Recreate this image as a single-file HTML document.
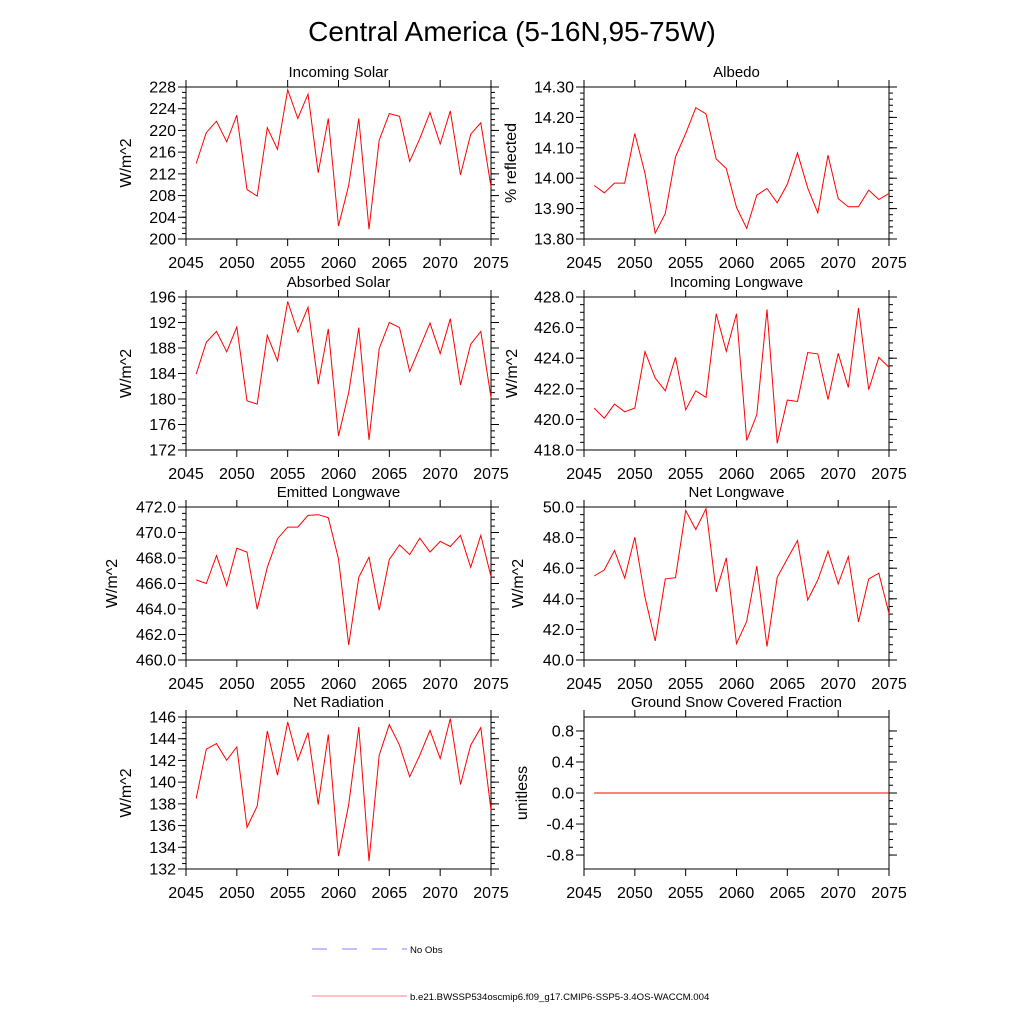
<!DOCTYPE html>
<html><head><meta charset="utf-8"><style>
body{margin:0;background:#fff;}
svg text{font-family:"Liberation Sans",Arial,sans-serif;fill:#000;}
</style></head><body>
<svg id="chart" width="1024" height="1024" viewBox="0 0 1024 1024" xmlns="http://www.w3.org/2000/svg">
<rect width="1024" height="1024" fill="#fff"/>
<text x="512" y="41" font-size="28" text-anchor="middle">Central America (5-16N,95-75W)</text>
<g id="panels"></g>
<g>
<line x1="312" y1="949" x2="407" y2="949" stroke="#8080ff" stroke-width="1" stroke-dasharray="15,15"/>
<text x="410" y="953" font-size="9.6">No Obs</text>
<line x1="312" y1="996" x2="407" y2="996" stroke="#ff8080" stroke-width="1"/>
<text x="410" y="1000" font-size="9.6">b.e21.BWSSP534oscmip6.f09_g17.CMIP6-SSP5-3.4OS-WACCM.004</text>
</g>
</svg>
<script>
const years = [2046,2047,2048,2049,2050,2051,2052,2053,2054,2055,2056,2057,2058,2059,2060,2061,2062,2063,2064,2065,2066,2067,2068,2069,2070,2071,2072,2073,2074,2075];
const xTicks = [2045,2050,2055,2060,2065,2070,2075];
const incomingSolar = [213.9,219.6,221.7,217.9,222.8,209.1,207.9,220.5,216.5,227.5,222.2,226.7,212.2,222.2,202.4,209.9,222.2,201.8,218.2,223.1,222.6,214.3,218.5,223.3,217.5,223.6,211.8,219.3,221.4,209.6];
const albedo = [13.976,13.952,13.984,13.984,14.147,14.016,13.819,13.884,14.070,14.147,14.232,14.212,14.063,14.032,13.904,13.835,13.944,13.966,13.919,13.980,14.083,13.968,13.886,14.076,13.933,13.906,13.906,13.961,13.930,13.950];
const absorbedSolar = [183.9,188.9,190.6,187.4,191.3,179.7,179.2,190.0,186.0,195.3,190.5,194.4,182.3,191.0,174.2,181.0,191.2,173.6,187.9,192.0,191.2,184.3,188.1,191.9,187.1,192.6,182.2,188.6,190.6,180.2];
const incomingLW = [420.74,420.08,421.0,420.5,420.74,424.43,422.7,421.87,424.06,420.63,421.87,421.44,426.9,424.45,426.9,418.63,420.3,427.19,418.44,421.26,421.17,424.37,424.28,421.3,424.32,422.09,427.28,421.94,424.06,423.4];
const emittedLW = [466.28,466.0,468.19,465.83,468.77,468.46,463.99,467.27,469.51,470.42,470.42,471.34,471.4,471.16,467.93,461.18,466.49,468.06,463.91,467.88,469.03,468.27,469.56,468.46,469.3,468.9,469.77,467.27,469.77,466.54];
const netLW = [45.49,45.89,47.16,45.36,48.03,44.09,41.25,45.30,45.38,49.78,48.53,49.89,44.46,46.67,41.07,42.52,46.13,40.88,45.40,46.61,47.81,43.92,45.23,47.11,44.97,46.76,42.49,45.30,45.67,43.04];
const netRadiation = [138.49,143.03,143.55,142.02,143.24,135.83,137.79,144.71,140.64,145.54,142.02,144.56,137.94,144.38,133.19,137.94,145.08,132.73,142.48,145.30,143.40,140.49,142.48,144.77,142.17,145.85,139.78,143.40,145.02,137.42];
const snowFraction = [0,0,0,0,0,0,0,0,0,0,0,0,0,0,0,0,0,0,0,0,0,0,0,0,0,0,0,0,0,0];
const incomingSolarTicks = [200,204,208,212,216,220,224,228];
const albedoTicks = [13.80,13.90,14.00,14.10,14.20,14.30];
const absorbedSolarTicks = [172,176,180,184,188,192,196];
const incomingLWTicks = [418,420,422,424,426,428];
const emittedLWTicks = [460,462,464,466,468,470,472];
const netLWTicks = [40,42,44,46,48,50];
const netRadiationTicks = [132,134,136,138,140,142,144,146];
const snowTicks = [-0.8,-0.4,0.0,0.4,0.8];

const NS='http://www.w3.org/2000/svg';
const root=document.getElementById('panels');
function mk(tag,attrs,parent){const e=document.createElementNS(NS,tag);for(const k in attrs)e.setAttribute(k,attrs[k]);parent.appendChild(e);return e;}

const panels=[
 {id:'incoming-solar',title:'Incoming Solar',yl:'W/m^2',x0:186,y0:87,y1:239,ymin:200,ymax:228,ticks:incomingSolarTicks,dec:0,minor:1,data:incomingSolar,ylx:131},
 {id:'albedo',title:'Albedo',yl:'% reflected',x0:584,y0:87,y1:239,ymin:13.8,ymax:14.3,ticks:albedoTicks,dec:2,minor:0.02,data:albedo,ylx:516},
 {id:'absorbed-solar',title:'Absorbed Solar',yl:'W/m^2',x0:186,y0:297,y1:450,ymin:172,ymax:196,ticks:absorbedSolarTicks,dec:0,minor:1,data:absorbedSolar,ylx:131},
 {id:'incoming-longwave',title:'Incoming Longwave',yl:'W/m^2',x0:584,y0:297,y1:450,ymin:418,ymax:428,ticks:incomingLWTicks,dec:1,minor:0.5,data:incomingLW,ylx:517},
 {id:'emitted-longwave',title:'Emitted Longwave',yl:'W/m^2',x0:186,y0:507,y1:660,ymin:460,ymax:472,ticks:emittedLWTicks,dec:1,minor:0.5,data:emittedLW,ylx:117},
 {id:'net-longwave',title:'Net Longwave',yl:'W/m^2',x0:584,y0:507,y1:660,ymin:40,ymax:50,ticks:netLWTicks,dec:1,minor:0.5,data:netLW,ylx:523},
 {id:'net-radiation',title:'Net Radiation',yl:'W/m^2',x0:186,y0:717,y1:869,ymin:132,ymax:146,ticks:netRadiationTicks,dec:0,minor:0.5,data:netRadiation,ylx:131},
 {id:'snow-fraction',title:'Ground Snow Covered Fraction',yl:'unitless',x0:584,y0:717,y1:869,ymin:-0.98,ymax:0.98,ticks:snowTicks,dec:1,minor:0.1,data:snowFraction,ylx:527}
];
const W=305;
panels.forEach(p=>{
 const g=mk('g',{},root);
 
 
 const x1=p.x0+W;
 const xs=v=>p.x0+(v-2045)/30*W;
 const ys=v=>p.y1-(v-p.ymin)/(p.ymax-p.ymin)*(p.y1-p.y0);
 const t=mk('text',{x:p.x0+W/2,y:p.y0-10,'font-size':15,'text-anchor':'middle'},g);t.textContent=p.title;
 
 
 const n=Math.round((p.ticks[p.ticks.length-1]-p.ticks[0])/p.minor);
 for(let i=0;i<=n;i++){
  const v=p.ticks[0]+i*p.minor; const y=ys(v);
  if(y<p.y0-0.5||y>p.y1+0.5) continue;
  mk('line',{x1:p.x0-4,x2:p.x0,y1:y,y2:y,stroke:'#000','stroke-width':1},g);
  mk('line',{x1:x1,x2:x1+4,y1:y,y2:y,stroke:'#000','stroke-width':1},g);
 }
 p.ticks.forEach(v=>{
  const y=ys(v);
  mk('line',{x1:p.x0-8,x2:p.x0,y1:y,y2:y,stroke:'#000','stroke-width':1},g);
  mk('line',{x1:x1,x2:x1+8,y1:y,y2:y,stroke:'#000','stroke-width':1},g);
  const tl=mk('text',{x:p.x0-10,y:y+5.5,'font-size':16,'text-anchor':'end'},g);
  tl.textContent=v.toFixed(p.dec);
  
  
 });
 xTicks.forEach(v=>{
  const x=xs(v);
  mk('line',{x1:x,x2:x,y1:p.y1,y2:p.y1+7,stroke:'#000','stroke-width':1},g);
  mk('line',{x1:x,x2:x,y1:p.y0-7,y2:p.y0,stroke:'#000','stroke-width':1},g);
  const tl=mk('text',{x:x,y:p.y1+29,'font-size':16,'text-anchor':'middle'},g);
  tl.textContent=v;
  
  
 });
 mk('rect',{x:p.x0,y:p.y0,width:W,height:p.y1-p.y0,fill:'none',stroke:'#000','stroke-width':1},g);
 if(p.yl){
  const cy=(p.y0+p.y1)/2;
  const yt=mk('text',{x:p.ylx,y:cy,'font-size':16,'text-anchor':'middle',transform:'rotate(-90 '+p.ylx+' '+cy+')'},g);
  yt.textContent=p.yl;
  
  
 }
 const pts=p.data.map((v,i)=>xs(years[i]).toFixed(1)+','+ys(v).toFixed(1)).join(' ');
 const pl=mk('polyline',{points:pts,fill:'none',stroke:'#ff0000','stroke-width':1},g);
 
 
});
</script>
</body></html>
